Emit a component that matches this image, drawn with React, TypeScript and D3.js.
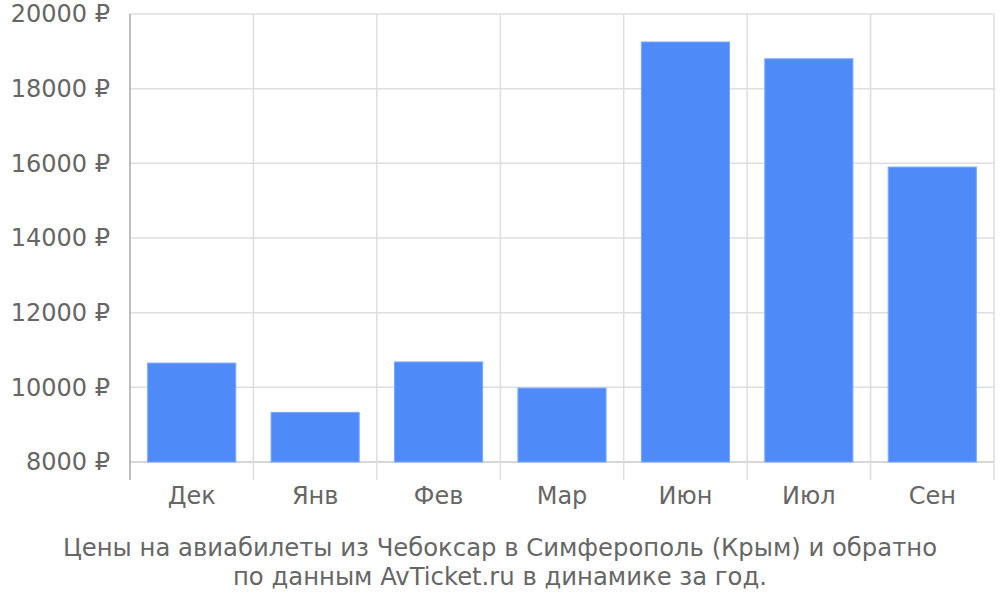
import React from 'react';
import * as d3 from 'd3';

const months = ['Дек', 'Янв', 'Фев', 'Мар', 'Июн', 'Июл', 'Сен'];
const prices = [10650, 9330, 10680, 9980, 19250, 18800, 15900];
const yTicks = [8000, 10000, 12000, 14000, 16000, 18000, 20000];
const titleLines = [
  'Цены на авиабилеты из Чебоксар в Симферополь (Крым) и обратно',
  'по данным AvTicket.ru в динамике за год.',
];

const width = 1000;
const height = 600;
const margin = { top: 14, right: 6, bottom: 138, left: 130 };
const font = '"DejaVu Sans", sans-serif';

const App: React.FC = () => {
  const x = d3.scaleBand<string>()
    .domain(months)
    .range([margin.left, width - margin.right])
    .padding(0);

  const y = d3.scaleLinear()
    .domain([8000, 20000])
    .range([height - margin.bottom, margin.top]);

  const inset = x.bandwidth() * 0.143;
  const gridBottom = y(8000) + 18;

  return (
    <svg width={width} height={height} style={{ position: 'absolute', left: 0, top: 0 }}>
      <rect width={width} height={height} fill="#fff" />
      {/* horizontal grid */}
      {yTicks.map(t => (
        <line key={t} x1={margin.left} x2={width - margin.right} y1={y(t)} y2={y(t)}
          stroke={t === 8000 ? '#c8c8c8' : '#dedede'} strokeWidth={1.5} />
      ))}
      {/* vertical grid at band edges */}
      {months.map((m, i) => i > 0 && (
        <line key={m} x1={x(m)!} x2={x(m)!} y1={margin.top} y2={gridBottom}
          stroke="#dedede" strokeWidth={1.5} />
      ))}
      <line x1={width - margin.right} x2={width - margin.right} y1={margin.top} y2={gridBottom}
        stroke="#dedede" strokeWidth={1.5} />
      {/* bars */}
      {months.map((m, i) => (
        <rect key={m}
          x={x(m)! + inset}
          y={y(prices[i])}
          width={x.bandwidth() - 2 * inset}
          height={y(8000) - y(prices[i])}
          fill="#4e8bf9"
          stroke="#7aa9fb"
          strokeWidth={1} />
      ))}
      {/* left axis */}
      <line x1={margin.left} x2={margin.left} y1={margin.top} y2={gridBottom}
        stroke="#a8a8a8" strokeWidth={1.5} />
      {yTicks.map(t => (
        <text key={t} x={110} y={y(t)} dy="0.35em" textAnchor="end"
          fontFamily={font} fontSize={24} fill="#666">
          {`${t} ₽`}
        </text>
      ))}
      {months.map(m => (
        <text key={m} x={x(m)! + x.bandwidth() / 2} y={496} dy="0.35em" textAnchor="middle"
          fontFamily={font} fontSize={24} fill="#666">
          {m}
        </text>
      ))}
      {titleLines.map((line, i) => (
        <text key={i} x={500} y={547 + i * 29} dy="0.35em" textAnchor="middle"
          fontFamily={font} fontSize={24.3} fill="#666">
          {line}
        </text>
      ))}
    </svg>
  );
};

export default App;
